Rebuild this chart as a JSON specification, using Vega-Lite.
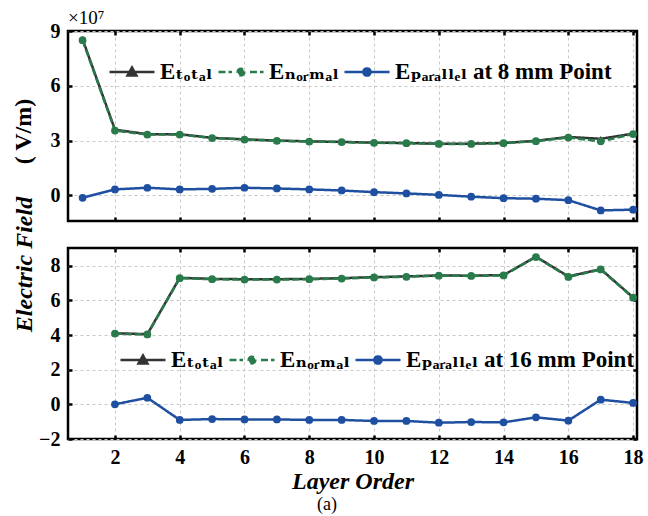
{
  "$schema": "https://vega.github.io/schema/vega-lite/v6.json",
  "background": "white",
  "padding": {"left": 9, "top": 7, "right": 5, "bottom": 5},
  "bounds": "flush",
  "spacing": 27,
  "title": {"text": "(a)", "orient": "bottom", "anchor": "middle", "font": "Liberation Serif", "fontSize": 18, "fontWeight": "normal", "color": "black", "offset": 2},
  "datasets": {
    "d": [
      {"p":8,"x":1,"s":"total","v":8.55},{"p":8,"x":2,"s":"total","v":3.6},{"p":8,"x":3,"s":"total","v":3.35},{"p":8,"x":4,"s":"total","v":3.35},{"p":8,"x":5,"s":"total","v":3.15},{"p":8,"x":6,"s":"total","v":3.07},{"p":8,"x":7,"s":"total","v":3.0},{"p":8,"x":8,"s":"total","v":2.96},{"p":8,"x":9,"s":"total","v":2.93},{"p":8,"x":10,"s":"total","v":2.89},{"p":8,"x":11,"s":"total","v":2.87},{"p":8,"x":12,"s":"total","v":2.83},{"p":8,"x":13,"s":"total","v":2.83},{"p":8,"x":14,"s":"total","v":2.87},{"p":8,"x":15,"s":"total","v":2.99},{"p":8,"x":16,"s":"total","v":3.2},{"p":8,"x":17,"s":"total","v":3.1},{"p":8,"x":18,"s":"total","v":3.38},
      {"p":8,"x":1,"s":"normal","v":8.5},{"p":8,"x":2,"s":"normal","v":3.55},{"p":8,"x":3,"s":"normal","v":3.33},{"p":8,"x":4,"s":"normal","v":3.33},{"p":8,"x":5,"s":"normal","v":3.14},{"p":8,"x":6,"s":"normal","v":3.06},{"p":8,"x":7,"s":"normal","v":2.99},{"p":8,"x":8,"s":"normal","v":2.95},{"p":8,"x":9,"s":"normal","v":2.92},{"p":8,"x":10,"s":"normal","v":2.88},{"p":8,"x":11,"s":"normal","v":2.86},{"p":8,"x":12,"s":"normal","v":2.82},{"p":8,"x":13,"s":"normal","v":2.82},{"p":8,"x":14,"s":"normal","v":2.86},{"p":8,"x":15,"s":"normal","v":2.97},{"p":8,"x":16,"s":"normal","v":3.17},{"p":8,"x":17,"s":"normal","v":2.96},{"p":8,"x":18,"s":"normal","v":3.36},
      {"p":8,"x":1,"s":"parallel","v":-0.13},{"p":8,"x":2,"s":"parallel","v":0.33},{"p":8,"x":3,"s":"parallel","v":0.42},{"p":8,"x":4,"s":"parallel","v":0.33},{"p":8,"x":5,"s":"parallel","v":0.36},{"p":8,"x":6,"s":"parallel","v":0.42},{"p":8,"x":7,"s":"parallel","v":0.38},{"p":8,"x":8,"s":"parallel","v":0.33},{"p":8,"x":9,"s":"parallel","v":0.27},{"p":8,"x":10,"s":"parallel","v":0.18},{"p":8,"x":11,"s":"parallel","v":0.11},{"p":8,"x":12,"s":"parallel","v":0.03},{"p":8,"x":13,"s":"parallel","v":-0.07},{"p":8,"x":14,"s":"parallel","v":-0.15},{"p":8,"x":15,"s":"parallel","v":-0.18},{"p":8,"x":16,"s":"parallel","v":-0.26},{"p":8,"x":17,"s":"parallel","v":-0.82},{"p":8,"x":18,"s":"parallel","v":-0.78},
      {"p":16,"x":2,"s":"total","v":4.1},{"p":16,"x":3,"s":"total","v":4.05},{"p":16,"x":4,"s":"total","v":7.3},{"p":16,"x":5,"s":"total","v":7.24},{"p":16,"x":6,"s":"total","v":7.22},{"p":16,"x":7,"s":"total","v":7.22},{"p":16,"x":8,"s":"total","v":7.24},{"p":16,"x":9,"s":"total","v":7.28},{"p":16,"x":10,"s":"total","v":7.34},{"p":16,"x":11,"s":"total","v":7.38},{"p":16,"x":12,"s":"total","v":7.44},{"p":16,"x":13,"s":"total","v":7.42},{"p":16,"x":14,"s":"total","v":7.46},{"p":16,"x":15,"s":"total","v":8.52},{"p":16,"x":16,"s":"total","v":7.38},{"p":16,"x":17,"s":"total","v":7.8},{"p":16,"x":18,"s":"total","v":6.17},
      {"p":16,"x":2,"s":"normal","v":4.08},{"p":16,"x":3,"s":"normal","v":4.03},{"p":16,"x":4,"s":"normal","v":7.28},{"p":16,"x":5,"s":"normal","v":7.22},{"p":16,"x":6,"s":"normal","v":7.2},{"p":16,"x":7,"s":"normal","v":7.2},{"p":16,"x":8,"s":"normal","v":7.22},{"p":16,"x":9,"s":"normal","v":7.26},{"p":16,"x":10,"s":"normal","v":7.32},{"p":16,"x":11,"s":"normal","v":7.36},{"p":16,"x":12,"s":"normal","v":7.42},{"p":16,"x":13,"s":"normal","v":7.41},{"p":16,"x":14,"s":"normal","v":7.44},{"p":16,"x":15,"s":"normal","v":8.5},{"p":16,"x":16,"s":"normal","v":7.35},{"p":16,"x":17,"s":"normal","v":7.78},{"p":16,"x":18,"s":"normal","v":6.15},
      {"p":16,"x":2,"s":"parallel","v":0.0},{"p":16,"x":3,"s":"parallel","v":0.38},{"p":16,"x":4,"s":"parallel","v":-0.9},{"p":16,"x":5,"s":"parallel","v":-0.85},{"p":16,"x":6,"s":"parallel","v":-0.87},{"p":16,"x":7,"s":"parallel","v":-0.87},{"p":16,"x":8,"s":"parallel","v":-0.9},{"p":16,"x":9,"s":"parallel","v":-0.9},{"p":16,"x":10,"s":"parallel","v":-0.96},{"p":16,"x":11,"s":"parallel","v":-0.96},{"p":16,"x":12,"s":"parallel","v":-1.06},{"p":16,"x":13,"s":"parallel","v":-1.02},{"p":16,"x":14,"s":"parallel","v":-1.04},{"p":16,"x":15,"s":"parallel","v":-0.75},{"p":16,"x":16,"s":"parallel","v":-0.94},{"p":16,"x":17,"s":"parallel","v":0.27},{"p":16,"x":18,"s":"parallel","v":0.08}
    ]
  },
  "data": {"name": "d"},
  "vconcat": [
    {
      "width": 569,
      "height": 190,
      "title": {"text": "×10⁷", "anchor": "start", "frame": "group", "offset": -7, "fontSize": 19, "font": "Liberation Serif", "fontWeight": "normal", "color": "black"},
      "transform": [{"filter": "datum.p == 8"}],
      "layer": [
        {
          "mark": {"type": "line", "strokeWidth": 2.5},
          "encoding": {
            "x": {"field": "x", "type": "quantitative", "scale": {"domain": [0.55, 18.12], "nice": false, "zero": false}, "axis": {"orient": "bottom", "values": [2,4,6,8,10,12,14,16,18], "labels": false, "title": null, "grid": false, "offset": -4, "tickSize": 4}},
            "y": {"field": "v", "type": "quantitative", "scale": {"domain": [-1.4, 9], "nice": false, "zero": false}, "axis": {"orient": "left", "values": [0,3,6,9], "grid": false, "offset": -4, "tickSize": 4, "labelPadding": 8, "title": "( V/m)", "titleX": -49, "titleY": 100, "titleBaseline": "middle", "titleAngle": -90, "titleAnchor": "middle"}},
            "color": {"field": "s", "type": "nominal", "sort": ["total","normal","parallel"], "scale": {"domain": ["total","normal","parallel"], "range": ["#333333", "#2a7b4b", "#1f4fa0"]},
              "legend": {"orient": "none", "legendX": 40, "legendY": 17, "direction": "horizontal", "title": null, "symbolSize": 2025, "symbolStrokeWidth": 2.5, "symbolOpacity": 1, "labelFont": "Liberation Serif, DejaVu Serif", "labelFontSize": 23, "labelFontWeight": "bold", "labelColor": "black", "labelLimit": 0, "columnPadding": 0, "labelOffset": 4, "padding": 0,
                "labelExpr": "datum.value == 'total' ? 'Eₜₒₜₐₗ' : datum.value == 'normal' ? 'Eₙₒᵣₘₐₗ' : 'Eₚₐᵣₐₗₗₑₗ at 8 mm Point'",
                "encode": {"symbols": {"update": {
                  "shape": {"signal": "datum.value == 'total' ? 'M-1,0H1M0,-0.2L0.2,0.16L-0.2,0.16Z' : datum.value == 'normal' ? 'M-1,0H-0.4M0.4,0H1M-0.15,0A0.15,0.15 0 1,1 0.15,0A0.15,0.15 0 1,1 -0.15,0Z' : 'M-1,0H1M-0.16,0A0.16,0.16 0 1,1 0.16,0A0.16,0.16 0 1,1 -0.16,0Z'"},
                  "fill": {"signal": "datum.value == 'total' ? '#333333' : datum.value == 'normal' ? '#2a7b4b' : '#1f4fa0'"},
                  "stroke": {"signal": "datum.value == 'total' ? '#333333' : datum.value == 'normal' ? '#2a7b4b' : '#1f4fa0'"},
                  "size": {"value": 2025},
                  "opacity": {"value": 1}
                }}}
              }
            },
            "strokeDash": {"field": "s", "type": "nominal", "scale": {"domain": ["total","normal","parallel"], "range": [[1,0],[7,3],[1,0]]}, "legend": null}
          }
        },
        {
          "transform": [{"filter": "datum.s == 'total'"}],
          "mark": {"type": "point", "filled": true, "opacity": 1, "shape": "triangle-up", "size": 45},
          "encoding": {
            "x": {"field": "x", "type": "quantitative", "scale": {"domain": [0.55, 18.12], "nice": false, "zero": false}, "axis": {"orient": "top", "values": [2,4,6,8,10,12,14,16,18], "labels": false, "title": null, "grid": false, "offset": -4, "tickSize": 4}},
            "y": {"field": "v", "type": "quantitative", "scale": {"domain": [-1.4, 9], "nice": false, "zero": false}, "axis": {"orient": "right", "values": [0,3,6,9], "labels": false, "title": null, "grid": false, "offset": -4, "tickSize": 4}},
            "color": {"field": "s", "type": "nominal", "sort": ["total","normal","parallel"], "scale": {"domain": ["total","normal","parallel"], "range": ["#333333", "#2a7b4b", "#1f4fa0"]}}
          }
        },
        {
          "transform": [{"filter": "datum.s != 'total'"}],
          "mark": {"type": "point", "filled": true, "opacity": 1, "shape": "circle", "size": 60},
          "encoding": {
            "x": {"field": "x", "type": "quantitative", "scale": {"domain": [0.55, 18.12], "nice": false, "zero": false}, "axis": {"orient": "bottom", "values": [2,4,6,8,10,12,14,16,18], "grid": true, "ticks": false, "labels": false, "title": null}},
            "y": {"field": "v", "type": "quantitative", "scale": {"domain": [-1.4, 9], "nice": false, "zero": false}, "axis": {"orient": "left", "values": [0,3,6,9], "grid": true, "ticks": false, "labels": false, "title": null}},
            "color": {"field": "s", "type": "nominal", "sort": ["total","normal","parallel"], "scale": {"domain": ["total","normal","parallel"], "range": ["#333333", "#2a7b4b", "#1f4fa0"]}}
          }
        }
      ],
      "resolve": {"axis": {"x": "independent", "y": "independent"}}
    },
    {
      "width": 569,
      "height": 191,
      "transform": [{"filter": "datum.p == 16"}],
      "layer": [
        {
          "mark": {"type": "line", "strokeWidth": 2.5},
          "encoding": {
            "x": {"field": "x", "type": "quantitative", "scale": {"domain": [0.55, 18.12], "nice": false, "zero": false}, "axis": {"orient": "bottom", "values": [2,4,6,8,10,12,14,16,18], "grid": false, "offset": -4, "tickSize": 4, "labelPadding": 8, "title": "Layer Order", "titleFontStyle": "italic", "titlePadding": 2}},
            "y": {"field": "v", "type": "quantitative", "scale": {"domain": [-2, 9.02], "nice": false, "zero": false}, "axis": {"orient": "left", "values": [-2,0,2,4,6,8], "grid": false, "offset": -4, "tickSize": 4, "labelPadding": 8, "title": "Electric Field", "titleFontStyle": "italic", "titleX": -48, "titleY": 16, "titleBaseline": "middle", "titleAngle": -90, "titleAnchor": "middle"}},
            "color": {"field": "s", "type": "nominal", "sort": ["total","normal","parallel"], "scale": {"domain": ["total","normal","parallel"], "range": ["#333333", "#2a7b4b", "#1f4fa0"]},
              "legend": {"orient": "none", "legendX": 51, "legendY": 88, "direction": "horizontal", "title": null, "symbolSize": 2025, "symbolStrokeWidth": 2.5, "symbolOpacity": 1, "labelFont": "Liberation Serif, DejaVu Serif", "labelFontSize": 23, "labelFontWeight": "bold", "labelColor": "black", "labelLimit": 0, "columnPadding": 0, "labelOffset": 4, "padding": 0,
                "labelExpr": "datum.value == 'total' ? 'Eₜₒₜₐₗ' : datum.value == 'normal' ? 'Eₙₒᵣₘₐₗ' : 'Eₚₐᵣₐₗₗₑₗ at 16 mm Point'",
                "encode": {"symbols": {"update": {
                  "shape": {"signal": "datum.value == 'total' ? 'M-1,0H1M0,-0.2L0.2,0.16L-0.2,0.16Z' : datum.value == 'normal' ? 'M-1,0H-0.4M0.4,0H1M-0.15,0A0.15,0.15 0 1,1 0.15,0A0.15,0.15 0 1,1 -0.15,0Z' : 'M-1,0H1M-0.16,0A0.16,0.16 0 1,1 0.16,0A0.16,0.16 0 1,1 -0.16,0Z'"},
                  "fill": {"signal": "datum.value == 'total' ? '#333333' : datum.value == 'normal' ? '#2a7b4b' : '#1f4fa0'"},
                  "stroke": {"signal": "datum.value == 'total' ? '#333333' : datum.value == 'normal' ? '#2a7b4b' : '#1f4fa0'"},
                  "size": {"value": 2025},
                  "opacity": {"value": 1}
                }}}
              }
            },
            "strokeDash": {"field": "s", "type": "nominal", "scale": {"domain": ["total","normal","parallel"], "range": [[1,0],[7,3],[1,0]]}, "legend": null}
          }
        },
        {
          "transform": [{"filter": "datum.s == 'total'"}],
          "mark": {"type": "point", "filled": true, "opacity": 1, "shape": "triangle-up", "size": 45},
          "encoding": {
            "x": {"field": "x", "type": "quantitative", "scale": {"domain": [0.55, 18.12], "nice": false, "zero": false}, "axis": {"orient": "top", "values": [2,4,6,8,10,12,14,16,18], "labels": false, "title": null, "grid": false, "offset": -4, "tickSize": 4}},
            "y": {"field": "v", "type": "quantitative", "scale": {"domain": [-2, 9.02], "nice": false, "zero": false}, "axis": {"orient": "right", "values": [-2,0,2,4,6,8], "labels": false, "title": null, "grid": false, "offset": -4, "tickSize": 4}},
            "color": {"field": "s", "type": "nominal", "sort": ["total","normal","parallel"], "scale": {"domain": ["total","normal","parallel"], "range": ["#333333", "#2a7b4b", "#1f4fa0"]}}
          }
        },
        {
          "transform": [{"filter": "datum.s != 'total'"}],
          "mark": {"type": "point", "filled": true, "opacity": 1, "shape": "circle", "size": 60},
          "encoding": {
            "x": {"field": "x", "type": "quantitative", "scale": {"domain": [0.55, 18.12], "nice": false, "zero": false}, "axis": {"orient": "bottom", "values": [2,4,6,8,10,12,14,16,18], "grid": true, "ticks": false, "labels": false, "title": null}},
            "y": {"field": "v", "type": "quantitative", "scale": {"domain": [-2, 9.02], "nice": false, "zero": false}, "axis": {"orient": "left", "values": [-2,0,2,4,6,8], "grid": true, "ticks": false, "labels": false, "title": null}},
            "color": {"field": "s", "type": "nominal", "sort": ["total","normal","parallel"], "scale": {"domain": ["total","normal","parallel"], "range": ["#333333", "#2a7b4b", "#1f4fa0"]}}
          }
        }
      ],
      "resolve": {"axis": {"x": "independent", "y": "independent"}}
    }
  ],
  "resolve": {"scale": {"color": "independent", "strokeDash": "independent", "x": "independent", "y": "independent"}, "legend": {"color": "independent"}},
  "config": {
    "view": {"stroke": "black", "strokeWidth": 2.5},
    "axis": {"labelFont": "Liberation Serif", "labelFontSize": 20, "labelFontWeight": "bold", "labelColor": "black", "tickColor": "black", "tickWidth": 2.5, "gridColor": "#c8c8c8", "gridDash": [3, 3], "gridWidth": 1, "domain": false, "titleFont": "Liberation Serif", "titleFontSize": 24, "titleFontWeight": "bold", "titleColor": "black"}
  }
}
